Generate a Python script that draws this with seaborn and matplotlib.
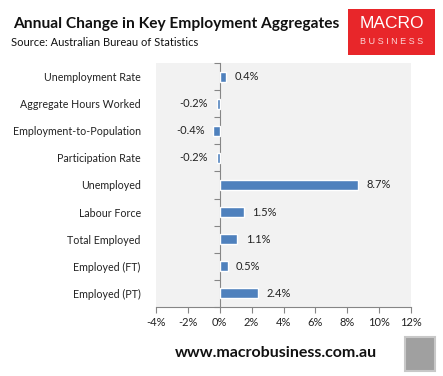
import numpy as np
import pandas as pd
import seaborn as sns
import matplotlib.pyplot as plt
import matplotlib.patches as mpatches
from matplotlib.ticker import FuncFormatter, FixedLocator

# data
categories = ['Unemployment Rate', 'Aggregate Hours Worked', 'Employment-to-Population',
              'Participation Rate', 'Unemployed', 'Labour Force', 'Total Employed',
              'Employed (FT)', 'Employed (PT)']
changes = [0.4, -0.2, -0.4, -0.2, 8.7, 1.5, 1.1, 0.5, 2.4]
value_labels = ['0.4%', '-0.2%', '-0.4%', '-0.2%', '8.7%', '1.5%', '1.1%', '0.5%', '2.4%']
x_ticks = [-4, -2, 0, 2, 4, 6, 8, 10, 12]

sns.set_style('white')
plt.rcParams['font.family'] = ['Lato', 'DejaVu Sans']

df = pd.DataFrame({'category': categories, 'change': changes})

fig = plt.figure(figsize=(4.43, 3.76), dpi=100, facecolor='white')
ax = fig.add_axes([0.352, 0.1835, 0.576, 0.649])
ax.set_facecolor('#F2F2F2')

sns.barplot(data=df, x='change', y='category', color='#4F81BD', width=0.37,
            saturation=1, ax=ax)
ax.bar_label(ax.containers[0], labels=value_labels, padding=6, fontsize=8, color='#222222')

ax.set_xlim(-4, 12)
ax.set_ylim(len(categories) - 0.5, -0.5)
ax.xaxis.set_major_locator(FixedLocator(x_ticks))
ax.xaxis.set_major_formatter(FuncFormatter(lambda v, p: f'{v:.0f}%'))
ax.set_xlabel('')
ax.set_ylabel('')
ax.tick_params(axis='x', length=4, width=0.8, color='#868686', direction='out',
               labelsize=8, pad=3, bottom=True, labelcolor='#222222')
ax.tick_params(axis='y', length=0, labelsize=7.7, pad=11, labelcolor='#222222')
for s in ['top', 'right', 'left']:
    ax.spines[s].set_visible(False)
ax.spines['bottom'].set_color('#868686')
ax.spines['bottom'].set_linewidth(0.8)

# vertical axis at zero with tick marks between categories
sec = ax.secondary_yaxis(0.25)
sec.spines['left'].set_color('#868686')
sec.spines['left'].set_linewidth(0.8)
sec.set_yticks(np.arange(-0.5, len(categories) + 0.5, 1))
sec.set_yticklabels([])
sec.tick_params(axis='y', length=4, width=0.8, color='#868686', direction='out')

# header
fig.text(0.029, 0.935, 'Annual Change in Key Employment Aggregates', fontsize=11.2,
         fontweight='bold', color='#111111', va='center')
fig.text(0.025, 0.886, 'Source: Australian Bureau of Statistics', fontsize=8,
         color='#111111', va='center')

# logo box
fig.patches.append(mpatches.Rectangle((348 / 443, 1 - 55 / 376), 87 / 443, 46 / 376,
                                      transform=fig.transFigure, facecolor='#E8262A',
                                      edgecolor='none'))
fig.text(392 / 443, 1 - 24 / 376, 'MACRO', fontsize=12.5, color='white',
         ha='center', va='center', family='Liberation Sans')
fig.text(392 / 443, 1 - 41 / 376, 'B U S I N E S S', fontsize=6.5, color='#FBD6D6',
         ha='center', va='center', family='Liberation Sans')

# footer
fig.text(276 / 443, 1 - 353 / 376, 'www.macrobusiness.com.au', fontsize=11.5,
         fontweight='bold', color='#111111', ha='center', va='center')
fig.patches.append(mpatches.Rectangle((405 / 443, 1 - 371 / 376), 30 / 443, 34 / 376,
                                      transform=fig.transFigure, facecolor='#A0A0A0',
                                      edgecolor='#C8C8C8', linewidth=1.5))

fig.savefig('out.png', dpi=100, facecolor='white')
